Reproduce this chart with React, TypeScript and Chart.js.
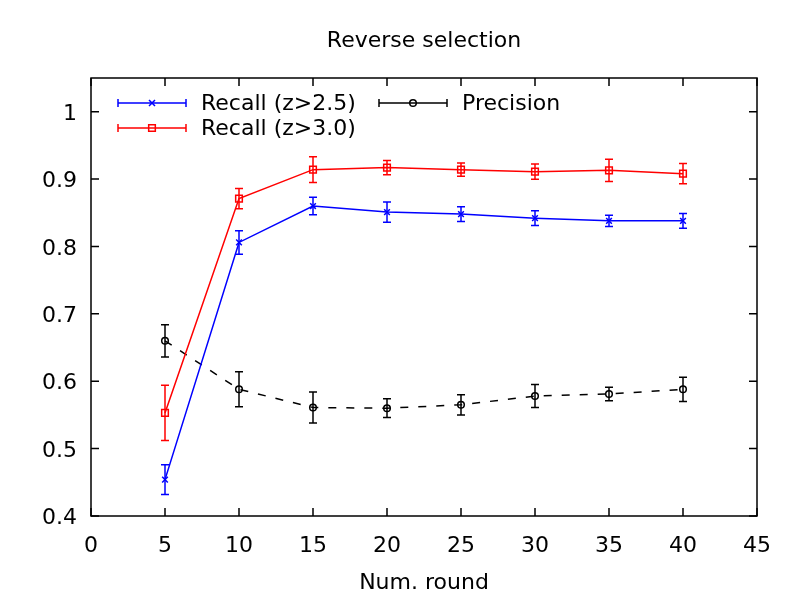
import React, { useEffect, useRef } from 'react';
import { Chart, registerables } from 'chart.js';

Chart.register(...registerables);

const rounds = [5, 10, 15, 20, 25, 30, 35, 40];
const recall25 = [0.454, 0.806, 0.860, 0.851, 0.848, 0.842, 0.838, 0.838];
const recall25Err = [0.022, 0.0175, 0.013, 0.015, 0.011, 0.011, 0.0085, 0.011];
const recall30 = [0.553, 0.871, 0.914, 0.917, 0.914, 0.911, 0.913, 0.908];
const recall30Err = [0.041, 0.015, 0.019, 0.0105, 0.0097, 0.0114, 0.0166, 0.015];
const precision = [0.660, 0.588, 0.561, 0.560, 0.565, 0.578, 0.581, 0.588];
const precisionErr = [0.024, 0.026, 0.023, 0.014, 0.015, 0.017, 0.010, 0.018];

const xTickValues = [0, 5, 10, 15, 20, 25, 30, 35, 40, 45];
const yTickValues = [0.4, 0.5, 0.6, 0.7, 0.8, 0.9, 1.0];

const seriesLabels = ['Recall (z>2.5)', 'Recall (z>3.0)', 'Precision'];
const seriesErrors = [recall25Err, recall30Err, precisionErr];

const FONT = 'DejaVu Sans';
const FSIZE = 22;

function drawMarker(ctx: CanvasRenderingContext2D, style: string, x: number, y: number, r: number) {
  ctx.beginPath();
  if (style === 'crossRot') {
    const d = r * 0.75;
    ctx.moveTo(x - d, y - d); ctx.lineTo(x + d, y + d);
    ctx.moveTo(x - d, y + d); ctx.lineTo(x + d, y - d);
  } else if (style === 'rect') {
    const s = r / Math.SQRT2;
    ctx.rect(x - s, y - s, 2 * s, 2 * s);
  } else {
    ctx.arc(x, y, r, 0, Math.PI * 2);
  }
  ctx.stroke();
}

const gnuplotPlugin = {
  id: 'gnuplotDeco',
  afterDatasetsDraw(chart: any) {
    const ctx: CanvasRenderingContext2D = chart.ctx;
    const xs = chart.scales.x;
    const ys = chart.scales.y;
    chart.data.datasets.forEach((ds: any, i: number) => {
      const errs = seriesErrors[i];
      ctx.save();
      ctx.strokeStyle = ds.borderColor;
      ctx.lineWidth = 1.5;
      ctx.setLineDash([]);
      ds.data.forEach((p: any, j: number) => {
        const px = xs.getPixelForValue(p.x);
        const y1 = ys.getPixelForValue(p.y + errs[j]);
        const y2 = ys.getPixelForValue(p.y - errs[j]);
        ctx.beginPath();
        ctx.moveTo(px, y1); ctx.lineTo(px, y2);
        ctx.moveTo(px - 4, y1); ctx.lineTo(px + 4, y1);
        ctx.moveTo(px - 4, y2); ctx.lineTo(px + 4, y2);
        ctx.stroke();
      });
      ctx.restore();
    });
  },
  afterDraw(chart: any) {
    const ctx: CanvasRenderingContext2D = chart.ctx;
    const { left, right, top, bottom } = chart.chartArea;
    const xs = chart.scales.x;
    const ys = chart.scales.y;
    ctx.save();
    ctx.strokeStyle = '#000';
    ctx.lineWidth = 1.5;
    ctx.setLineDash([]);
    ctx.strokeRect(left, top, right - left, bottom - top);
    ctx.beginPath();
    xTickValues.forEach((v) => {
      const px = xs.getPixelForValue(v);
      ctx.moveTo(px, bottom); ctx.lineTo(px, bottom - 8);
      ctx.moveTo(px, top); ctx.lineTo(px, top + 8);
    });
    yTickValues.forEach((v) => {
      const py = ys.getPixelForValue(v);
      ctx.moveTo(left, py); ctx.lineTo(left + 8, py);
      ctx.moveTo(right, py); ctx.lineTo(right - 8, py);
    });
    ctx.stroke();

    // legend (gnuplot-style, column-major)
    const slots = [
      { col: 0, row: 0 },
      { col: 0, row: 1 },
      { col: 1, row: 0 },
    ];
    const colOffsets = [27, 288];
    chart.data.datasets.forEach((ds: any, i: number) => {
      const slot = slots[i];
      const x0 = left + colOffsets[slot.col];
      const x1 = x0 + 68;
      const y = top + 25 + slot.row * 25;
      ctx.strokeStyle = ds.borderColor;
      ctx.lineWidth = 1.5;
      ctx.beginPath();
      ctx.moveTo(x0, y); ctx.lineTo(x1, y);
      ctx.moveTo(x0, y - 4); ctx.lineTo(x0, y + 4);
      ctx.moveTo(x1, y - 4); ctx.lineTo(x1, y + 4);
      ctx.stroke();
      drawMarker(ctx, ds.pointStyle, (x0 + x1) / 2, y, ds.pointRadius);
      ctx.fillStyle = '#000';
      ctx.font = `${FSIZE}px "${FONT}"`;
      ctx.textBaseline = 'middle';
      ctx.textAlign = 'left';
      ctx.fillText(ds.label, x1 + 15, y + 1.5);
    });
    ctx.restore();
  },
};

export default function App() {
  const ref = useRef<HTMLCanvasElement | null>(null);
  useEffect(() => {
    if (!ref.current) return;
    const toPts = (vals: number[]) => vals.map((v, i) => ({ x: rounds[i], y: v }));
    const font = { family: FONT, size: FSIZE };
    const chart = new Chart(ref.current, {
      type: 'line',
      data: {
        datasets: [
          {
            label: seriesLabels[0],
            data: toPts(recall25),
            borderColor: '#0000ff',
            backgroundColor: 'transparent',
            borderWidth: 1.5,
            pointStyle: 'crossRot',
            pointRadius: 4,
            pointBorderWidth: 1.5,
            pointBorderColor: '#0000ff',
            pointBackgroundColor: 'transparent',
            tension: 0,
          },
          {
            label: seriesLabels[1],
            data: toPts(recall30),
            borderColor: '#ff0000',
            backgroundColor: 'transparent',
            borderWidth: 1.5,
            pointStyle: 'rect',
            pointRadius: 4.7,
            pointBorderWidth: 1.5,
            pointBorderColor: '#ff0000',
            pointBackgroundColor: 'transparent',
            tension: 0,
          },
          {
            label: seriesLabels[2],
            data: toPts(precision),
            borderColor: '#000000',
            backgroundColor: 'transparent',
            borderWidth: 1.5,
            borderDash: [8, 10],
            pointStyle: 'circle',
            pointRadius: 3.3,
            pointBorderWidth: 1.5,
            pointBorderColor: '#000000',
            pointBackgroundColor: 'transparent',
            tension: 0,
          },
        ] as any,
      },
      options: {
        responsive: false,
        animation: false,
        layout: { padding: { left: 0, right: 43, top: 0, bottom: 0 } },
        plugins: {
          legend: { display: false },
          tooltip: { enabled: false },
          title: {
            display: true,
            text: 'Reverse selection',
            color: '#000',
            font: { family: FONT, size: FSIZE, weight: 'normal' },
            padding: { top: 28, bottom: 23.6 },
            fullSize: false,
          },
        },
        scales: {
          x: {
            type: 'linear',
            min: 0,
            max: 45,
            afterBuildTicks: (s: any) => {
              s.ticks = xTickValues.map((v) => ({ value: v }));
            },
            afterFit: (s: any) => {
              s.height = 84;
            },
            grid: { display: false, drawTicks: false },
            border: { display: false },
            ticks: {
              color: '#000',
              font,
              padding: 17,
              maxRotation: 0,
              autoSkip: false,
              callback: (v: any) => String(v),
            },
            title: {
              display: true,
              text: 'Num. round',
              color: '#000',
              font,
              padding: { top: 0, bottom: 4 },
            },
          },
          y: {
            type: 'linear',
            min: 0.4,
            max: 1.05,
            afterBuildTicks: (s: any) => {
              s.ticks = yTickValues.map((v) => ({ value: v }));
            },
            afterFit: (s: any) => {
              s.width = 91;
            },
            grid: { display: false, drawTicks: false },
            border: { display: false },
            ticks: {
              color: '#000',
              font,
              padding: 14,
              labelOffset: 2.5,
              autoSkip: false,
              callback: (v: any) => String(parseFloat(Number(v).toFixed(1))),
            },
          },
        },
      } as any,
      plugins: [gnuplotPlugin],
    });
    return () => chart.destroy();
  }, []);
  return (
    <div style={{ position: 'absolute', left: 0, top: 0, width: 800, height: 600, background: '#fff' }}>
      <canvas ref={ref} width={800} height={600} />
    </div>
  );
}
